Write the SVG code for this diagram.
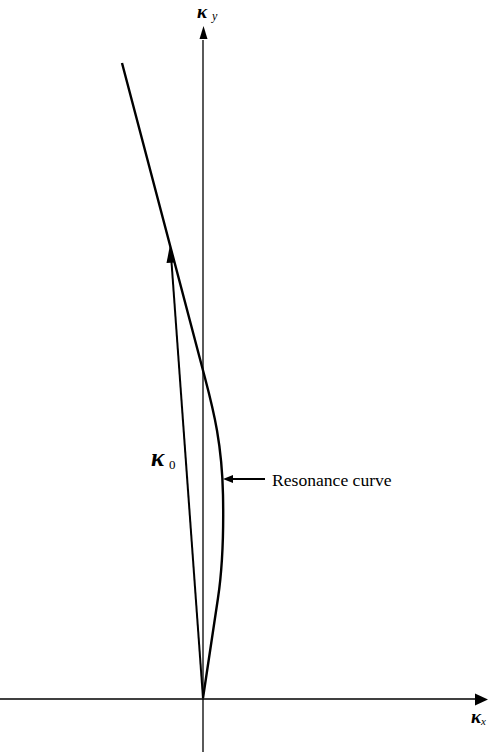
<svg xmlns="http://www.w3.org/2000/svg" width="488" height="754" viewBox="0 0 488 754">
<style>
.axis{stroke:#000;stroke-width:1.3;fill:none}
.line{stroke:#000;stroke-width:2;fill:none}
.curve{stroke:#000;stroke-width:2.4;fill:none}
.sym{font-family:"Liberation Serif","DejaVu Serif",serif;font-weight:bold;font-style:italic;fill:#000}
.sub{font-family:"Liberation Serif","DejaVu Serif",serif;font-style:italic;fill:#000}
.lbl{font-family:"Liberation Serif","DejaVu Serif",serif;fill:#000}
</style>
<g id="connectors">
<line class="axis" x1="203" y1="752" x2="203" y2="40"/>
<path d="M199.5,39 L203.5,26 L207.5,39 Z" fill="#000"/>
<line class="axis" x1="0" y1="699" x2="476" y2="699"/>
<path d="M475,693.5 L488,699.5 L475,705.5 Z" fill="#000"/>
<line class="line" x1="203" y1="698" x2="171.5" y2="262"/>
<path d="M166.5,263 L170,245 L175,262.5 Z" fill="#000"/>
<line class="line" x1="265" y1="479" x2="232" y2="479"/>
<path d="M233,475 L223,479 L233,483 Z" fill="#000"/>
</g>
<g id="resonance-curve">
<path class="curve" d="M122,63 L205,378 C214,412 222,445 223,495 C224,545 221,578 218,598 L203,698"/>
</g>
<g id="label-ky">
<text class="sym" x="197" y="18" font-size="19">κ</text>
<text class="sub" x="212" y="20" font-size="12">y</text>
</g>
<g id="label-kx">
<text class="sym" x="471" y="723" font-size="19">κ</text>
<text class="sub" x="481" y="725" font-size="11">x</text>
</g>
<g id="label-k0">
<text class="sym" x="151" y="466" font-size="25">κ</text>
<text class="lbl" x="169" y="469" font-size="13">0</text>
</g>
<g id="label-resonance">
<text class="lbl" x="272" y="486" font-size="17.6">Resonance curve</text>
</g>
</svg>
